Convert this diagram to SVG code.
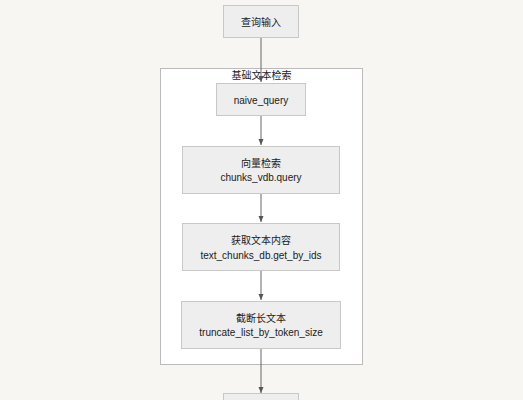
<svg xmlns="http://www.w3.org/2000/svg" width="523" height="400" viewBox="0 0 523 400">
<style>
.n{fill:#eeeeee;stroke:#c8c8c8;stroke-width:1}
.t{font-family:"Liberation Sans","Noto Sans CJK SC",sans-serif;font-size:10px;fill:#1a1a1a;text-anchor:middle}
.e{stroke:#666;stroke-width:1;fill:none;marker-end:url(#a)}
</style>
<defs>
<marker id="a" markerWidth="8" markerHeight="8" refX="7" refY="4" orient="auto" markerUnits="userSpaceOnUse">
<path d="M1,1.5 L7,4 L1,6.5 Z" fill="#555"/>
</marker>
</defs>
<rect width="523" height="400" fill="#f7f6f2"/>
<g id="cluster">
<rect x="160.5" y="68.5" width="202" height="296" fill="#ffffff" stroke="#bbbbbb"/>
<text class="t" x="261.5" y="78.5">基础文本检索</text>
</g>
<g id="connectors">
<path class="e" d="M261,37 V82"/>
<path class="e" d="M261,116 V145"/>
<path class="e" d="M261,193 V222"/>
<path class="e" d="M261,271 V300"/>
<path class="e" d="M261,348 V393"/>
</g>
<g id="input">
<rect class="n" x="223.5" y="5.5" width="75" height="32"/>
<text class="t" x="261" y="25.5">查询输入</text>
</g>
<g id="naive_query">
<rect class="n" x="216.5" y="83.5" width="89" height="32"/>
<text class="t" x="261" y="103.5">naive_query</text>
</g>
<g id="vdb">
<rect class="n" x="182.5" y="146.5" width="157" height="47"/>
<text class="t" x="261" y="166.5">向量检索</text>
<text class="t" x="261" y="180.5">chunks_vdb.query</text>
</g>
<g id="get">
<rect class="n" x="182.5" y="223.5" width="157" height="47"/>
<text class="t" x="261" y="244">获取文本内容</text>
<text class="t" x="261" y="258.5">text_chunks_db.get_by_ids</text>
</g>
<g id="truncate">
<rect class="n" x="181.5" y="301.5" width="159" height="47"/>
<text class="t" x="261" y="322">截断长文本</text>
<text class="t" x="261" y="336">truncate_list_by_token_size</text>
</g>
<g id="output">
<rect class="n" x="223.5" y="393.5" width="75" height="32"/>
</g>
</svg>
